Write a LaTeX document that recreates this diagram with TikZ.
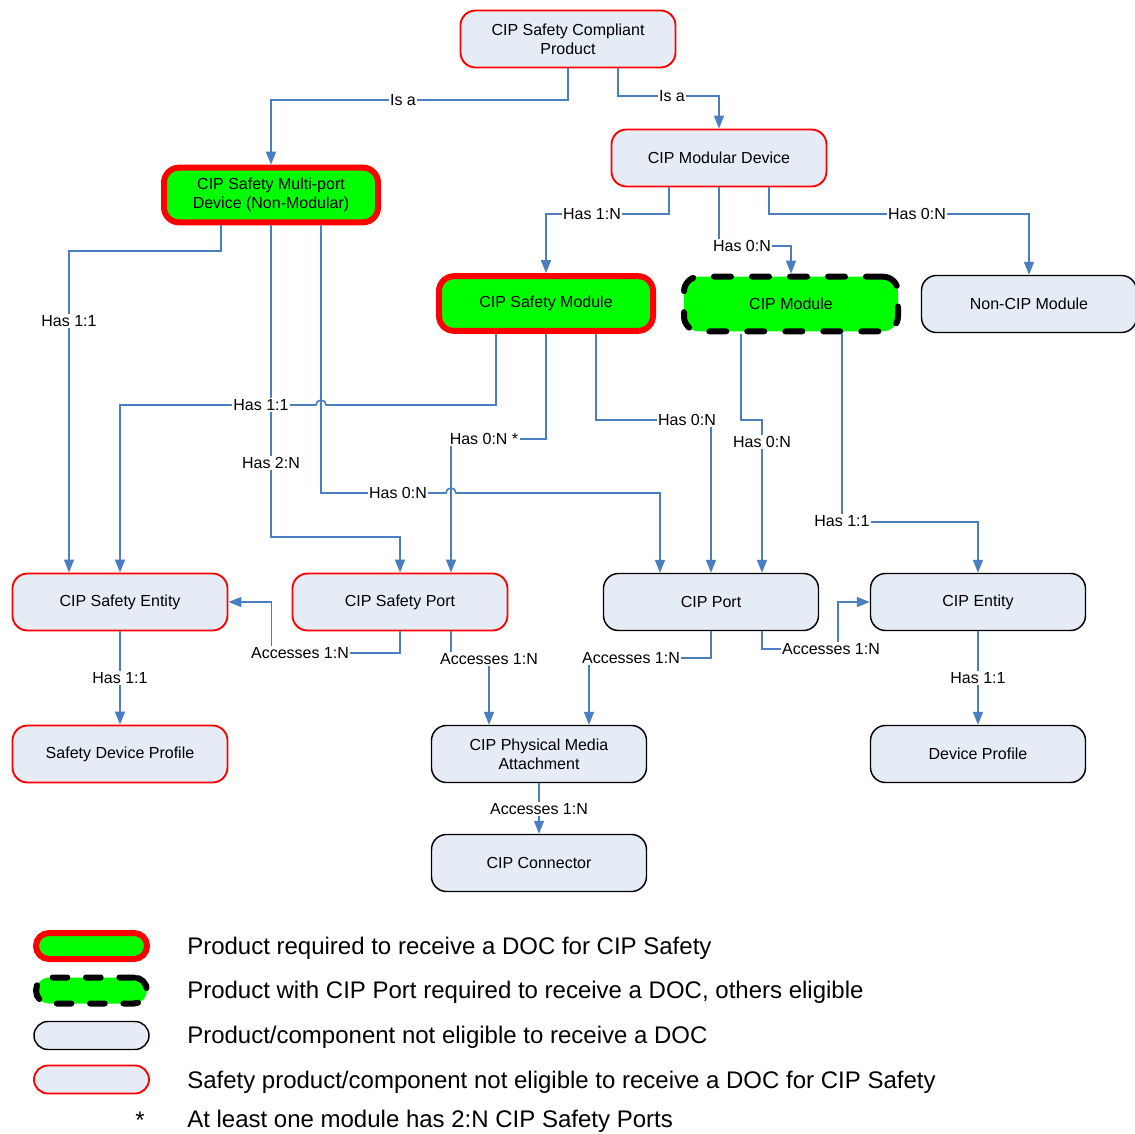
\documentclass[tikz,border=0pt]{standalone}
\usepackage{fontspec}
\setmainfont{Liberation Sans}
\usetikzlibrary{arrows.meta,calc}
\definecolor{connc}{HTML}{4A7EC1}
\definecolor{nfill}{HTML}{E6ECF6}
\definecolor{nred}{HTML}{FF0000}
\definecolor{ngreen}{HTML}{00FF00}
\begin{document}
\begin{tikzpicture}[x=0.75pt,y=-0.75pt,
 base/.style={rectangle,rounded corners=11.25pt,minimum width=161.25pt,minimum height=42.75pt,align=center,font=\fontsize{12}{14.25}\selectfont,inner sep=0pt},
 plainbox/.style={base,draw=black,line width=1.1pt,fill=nfill},
 safebox/.style={base,draw=nred,line width=1.4pt,fill=nfill},
 reqbox/.style={base,draw=nred,line width=4.5pt,fill=ngreen,minimum width=160.5pt,minimum height=41pt},
 dreqbox/.style={base,draw=black,line width=4.5pt,fill=ngreen,dash pattern=on 12.75pt off 15.75pt,line cap=round,minimum width=160.5pt,minimum height=41pt},
 link/.style={draw=connc,line width=1.2pt,-{Triangle[width=7.5pt,length=9.75pt]}},
 lbl/.style={fill=white,inner sep=1pt,font=\fontsize{12}{14}\selectfont},
 legtxt/.style={anchor=base west,font=\fontsize{18}{21}\selectfont,inner sep=0pt},
 legshape/.style={rectangle,minimum width=83.25pt,minimum height=19.5pt,rounded corners=9.75pt,inner sep=0pt},
 legshapethin/.style={rectangle,minimum width=86.25pt,minimum height=21pt,rounded corners=10.5pt,inner sep=0pt,fill=nfill,line width=1.1pt},
]
\useasboundingbox (0,0) rectangle (1135,1134);
\fill[white] (0,0) rectangle (1135,1134);

% nodes
\node[safebox] (csp) at (568,39) {CIP Safety Compliant\\Product};
\node[reqbox] (mpd) at (271,195) {CIP Safety Multi-port\\Device (Non-Modular)};
\node[safebox] (cmd) at (719,158) {CIP Modular Device};
\node[reqbox] (csm) at (546,303.5) {CIP Safety Module};
\node[dreqbox] (cm) at (791,304) {CIP Module};
\node[plainbox] (ncm) at (1029,304) {Non-CIP Module};
\node[safebox] (cse) at (120,602) {CIP Safety Entity};
\node[safebox] (csport) at (400,602) {CIP Safety Port};
\node[plainbox] (cport) at (711,602) {CIP Port};
\node[plainbox] (ce) at (978,602) {CIP Entity};
\node[safebox] (sdp) at (120,754) {Safety Device Profile};
\node[plainbox] (pma) at (539,754) {CIP Physical Media\\Attachment};
\node[plainbox] (dp) at (978,754) {Device Profile};
\node[plainbox] (cc) at (539,863) {CIP Connector};

% connectors
\draw[link] (csp.south) |- (420,100) -| (mpd.north);
\draw[link] ($(csp.south)+(50,0)$) |- (680,96) -| (cmd.north);
\draw[link] ($(cmd.south)+(-50,0)$) |- (600,214) -| (csm.north);
\draw[link] (cmd.south) |- (750,246) -| (cm.north);
\draw[link] ($(cmd.south)+(50,0)$) |- (900,214) -| (ncm.north);
\draw[link] ($(mpd.south)+(-50,0)$) |- (150,251) -| ($(cse.north)+(-51,0)$);
\draw[link] (mpd.south) |- (330,537) -| (csport.north);
\draw[link] ($(mpd.south)+(50,0)$) |- (446,493) arc[start angle=180,end angle=360,radius=5] -| ($(cport.north)+(-51,0)$);
\draw[link] ($(csm.south)+(-50,0)$) |- (326,405) arc[start angle=0,end angle=-180,radius=5] -| (cse.north);
\draw[link] (csm.south) |- (500,439) -| ($(csport.north)+(51,0)$);
\draw[link] ($(csm.south)+(50,0)$) |- (650,420) -| (cport.north);
\draw[link] ($(cm.south)+(-50,0)$) |- (750,420) -| ($(cport.north)+(51,0)$);
\draw[link] ($(cm.south)+(51,0)$) |- (900,522) -| (ce.north);
\draw[link] (csport.south) |- (330,653) -| ($(cse.east)+(43,0)$) -- (cse.east);
\draw[link] ($(csport.south)+(51,0)$) |- (470,659) -| ($(pma.north)+(-50,0)$);
\draw[link] (cport.south) |- (650,658) -| ($(pma.north)+(50,0)$);
\draw[link] ($(cport.south)+(51,0)$) |- (800,649) -| ($(ce.west)+(-32,0)$) -- (ce.west);
\draw[link] (cse.south) -- (sdp.north);
\draw[link] (ce.south) -- (dp.north);
\draw[link] (pma.south) -- (cc.north);

% connector labels
\node[lbl] (l1) at (403,100) {Is a};
\node[lbl] (l2) at (672,96) {Is a};
\node[lbl] (l3) at (592,214) {Has 1:N};
\node[lbl] (l4) at (742,246) {Has 0:N};
\node[lbl] (l5) at (917,214) {Has 0:N};
\node[lbl] (l6) at (69,321) {Has 1:1};
\node[lbl] (l7) at (271,463) {Has 2:N};
\node[lbl] (l8) at (398,493) {Has 0:N};
\node[lbl] (l9) at (261,405) {Has 1:1};
\node[lbl] (l10) at (484,439) {Has 0:N *};
\node[lbl] (l11) at (687,420) {Has 0:N};
\node[lbl] (l12) at (762,442) {Has 0:N};
\node[lbl] (l13) at (842,521) {Has 1:1};
\node[lbl] (l14) at (300,653) {Accesses 1:N};
\node[lbl] (l15) at (489,659) {Accesses 1:N};
\node[lbl] (l16) at (631,658) {Accesses 1:N};
\node[lbl] (l17) at (831,649) {Accesses 1:N};
\node[lbl] (l18) at (120,678) {Has 1:1};
\node[lbl] (l19) at (978,678) {Has 1:1};
\node[lbl] (l20) at (539,809) {Accesses 1:N};

% legend
\node[legshape,draw=nred,line width=4.5pt,fill=ngreen] (g1) at (91.5,946) {};
\node[legshape,draw=black,line width=4.5pt,fill=ngreen,dash pattern=on 11pt off 14pt,line cap=round] (g2) at (91.5,990.5) {};
\node[legshapethin,draw=black] (g3) at (91.5,1035.5) {};
\node[legshapethin,draw=nred,line width=1.4pt] (g4) at (91.5,1079.5) {};
\node[anchor=base,font=\fontsize{18}{21}\selectfont,inner sep=0pt] (g5) at (140,1128) {*};
\node[legtxt] (t1) at (187,954.6) {Product required to receive a DOC for CIP Safety};
\node[legtxt] (t2) at (187,998.6) {Product with CIP Port required to receive a DOC, others eligible};
\node[legtxt] (t3) at (187,1043.6) {Product/component not eligible to receive a DOC};
\node[legtxt] (t4) at (187,1088.6) {Safety product/component not eligible to receive a DOC for CIP Safety};
\node[legtxt] (t5) at (187,1127.6) {At least one module has 2:N CIP Safety Ports};
\end{tikzpicture}
\end{document}
